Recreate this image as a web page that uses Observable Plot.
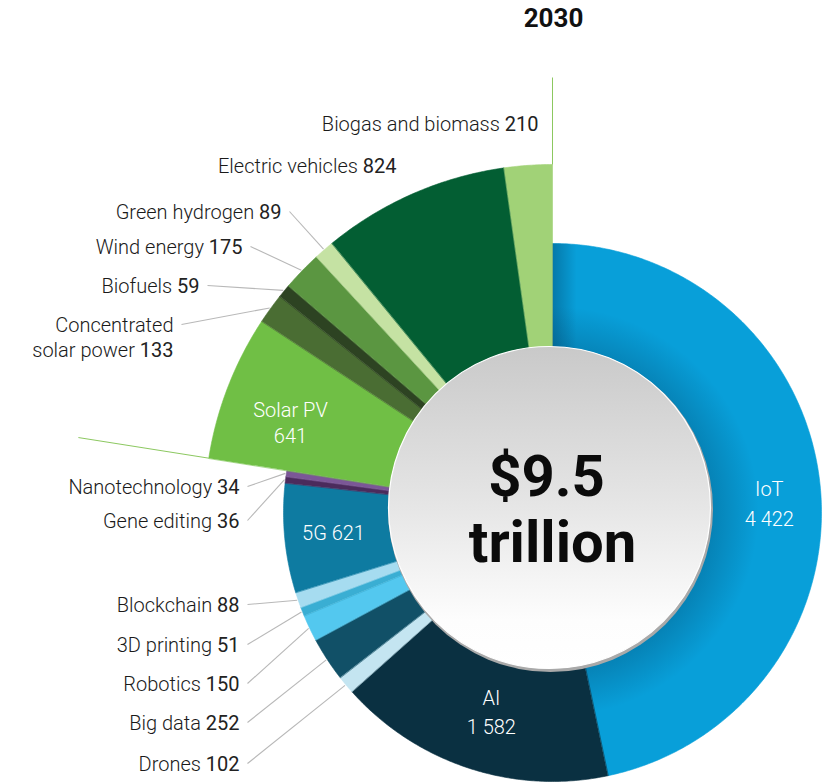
<!DOCTYPE html>
<html>
<head>
<meta charset="utf-8">
<script src="https://cdn.jsdelivr.net/npm/d3@7"></script>
<script src="https://cdn.jsdelivr.net/npm/@observablehq/plot@0.6"></script>
<style>
  html, body { margin: 0; padding: 0; background: #ffffff; }
  #chart svg { display: block; }
</style>
</head>
<body>
<div id="chart"></div>
<script>
// ---------------- data ----------------
const title = "2030";
const centerLines = ["$9.5", "trillion"];
const names = ["IoT", "AI", "Drones", "Big data", "Robotics", "3D printing", "Blockchain", "5G",
  "Gene editing", "Nanotechnology", "Solar PV", "Concentrated\nsolar power", "Biofuels",
  "Wind energy", "Green hydrogen", "Electric vehicles", "Biogas and biomass"];
const values = [4422, 1582, 102, 252, 150, 51, 88, 621, 36, 34, 641, 133, 59, 175, 89, 824, 210];
const groups = ["tech", "tech", "tech", "tech", "tech", "tech", "tech", "tech", "tech", "tech",
  "green", "green", "green", "green", "green", "green", "green"];
const colors = ["#089fd9", "#0a3041", "#c4e5f1", "#115067", "#53c8ef", "#3aaed3", "#a6dcf0", "#0e7ba1",
  "#4b2b5c", "#7b5797", "#70bf45", "#4a6d33", "#2d4322", "#5b9641", "#c5e2a3", "#035e33", "#a1d277"];

// ---------------- layout ----------------
const W = 833, H = 783;
const CX = 552, CY = 512;           // ring centre (px)
const R_TECH = 269, R_GREEN = 348, R_IN = 120;
const DISC = {x: 549, y: 507, r: 161};
// label placement: inside labels by radius, outside labels by right edge / centre line (px)
const labelLayout = {
  "IoT": {inside: true, r: 218, gap: 30},
  "AI": {inside: true, r: 196, gap: 29},
  "5G": {inside: true, r: 220, oneLine: true},
  "Solar PV": {inside: true, r: 281, gap: 26},
  "Biogas and biomass": {x: 538, y: 124, leader: false},
  "Electric vehicles": {x: 396, y: 166, leader: false},
  "Green hydrogen": {x: 281, y: 212},
  "Wind energy": {x: 242, y: 247},
  "Biofuels": {x: 199, y: 286},
  "Concentrated\nsolar power": {x: 173, y: 325},
  "Nanotechnology": {x: 239, y: 487},
  "Gene editing": {x: 239, y: 521},
  "Blockchain": {x: 239, y: 605},
  "3D printing": {x: 239, y: 645},
  "Robotics": {x: 239, y: 684},
  "Big data": {x: 239, y: 723},
  "Drones": {x: 239, y: 764}
};
const FONT = "Roboto, 'Noto Sans', sans-serif";
const FS = 20, LINE = 25;

// ---------------- helpers ----------------
const fmt = d3.formatLocale({thousands: " ", grouping: [3], decimal: "."}).format(",d");
const polar = (r, a) => ({x: r * Math.sin(a), y: r * Math.cos(a)});
const pix = (px, py) => ({x: px - CX, y: CY - py});

const total = d3.sum(values);
let acc = 0;
const slices = names.map((name, i) => {
  const a0 = acc / total * 2 * Math.PI;
  acc += values[i];
  const a1 = acc / total * 2 * Math.PI;
  return {name, value: values[i], label: fmt(values[i]), group: groups[i], color: colors[i],
    a0, a1, am: (a0 + a1) / 2, R: groups[i] === "green" ? R_GREEN : R_TECH};
});

const poly = slices.flatMap(s => {
  const n = Math.max(2, Math.ceil((s.a1 - s.a0) / (Math.PI / 360)));
  const pts = [];
  for (let k = 0; k <= n; k++) {
    const a = s.a0 + (s.a1 - s.a0) * k / n;
    pts.push({name: s.name, color: s.color, ...polar(s.R, a)});
  }
  for (let k = n; k >= 0; k--) {
    const a = s.a0 + (s.a1 - s.a0) * k / n;
    pts.push({name: s.name, color: s.color, ...polar(R_IN, a)});
  }
  return pts;
});

// text measuring
const ctx = document.createElement("canvas").getContext("2d");
const measure = (t, w) => { ctx.font = `${w} ${FS}px Roboto`; return ctx.measureText(t).width; };

const insideTexts = [];
const outNames = [];
const outNums = [];
const leaders = [];
for (const s of slices) {
  const L = labelLayout[s.name];
  if (L.inside) {
    const p = polar(L.r, s.am);
    if (L.oneLine) insideTexts.push({x: p.x, y: p.y, text: `${s.name} ${s.label}`});
    else {
      insideTexts.push({x: p.x, y: p.y, text: s.name});
      insideTexts.push({x: p.x, y: p.y - L.gap, text: s.label});
    }
  } else {
    const lines = s.name.split("\n");
    lines.forEach((ln, j) => {
      const p = pix(L.x, L.y + j * LINE);
      if (j < lines.length - 1) outNames.push({...p, text: ln, dx: 0});
      else {
        const nw = measure(s.label, 400) + measure(" ", 300);
        outNames.push({...p, text: ln, dx: -nw});
        outNums.push({...p, text: s.label});
      }
    });
    if (L.leader !== false) {
      const a = pix(L.x + 8, L.y - 1);
      const b = polar(s.R + 1, s.am);
      leaders.push({x1: a.x, y1: a.y, x2: b.x, y2: b.y});
    }
  }
}
// green sector boundary extensions
const gStart = slices.find(s => s.group === "green").a0;
const ext = [
  {p: polar(R_GREEN, 0), q: polar(435, 0)},
  {p: polar(R_GREEN, gStart), q: polar(480, gStart)}
].map(e => ({x1: e.p.x, y1: e.p.y, x2: e.q.x, y2: e.q.y}));

const disc = [pix(DISC.x, DISC.y)];
const discShadow = [pix(DISC.x + 1, DISC.y + 2)];
const titlePos = [{...pix(553, 18), text: title}];
const centerText = [
  {...pix(546, 477), text: centerLines[0]},
  {...pix(552, 543), text: centerLines[1]}
];

const nameMarks = d3.groups(outNames, d => d.dx).map(([dx, rows]) =>
  Plot.text(rows, {x: "x", y: "y", text: "text", dx, textAnchor: "end", fontSize: FS,
    fontWeight: 300, fill: "#1a1a1a", fontFamily: FONT}));

const chart = Plot.plot({
  width: W, height: H,
  margin: 0,
  x: {domain: [-CX, W - CX], range: [0, W], axis: null},
  y: {domain: [-(H - CY), CY], range: [H, 0], axis: null},
  color: {type: "identity"},
  marks: [
    Plot.line(poly, {x: "x", y: "y", z: "name", fill: "color", stroke: "color", strokeWidth: 0.6,
      curve: "linear-closed"}),
    Plot.line(poly.filter(d => d.name === "IoT"), {x: "x", y: "y", z: "name",
      fill: "url(#iotShade)", curve: "linear-closed"}),
    Plot.line(poly.filter(d => d.name === "IoT"), {x: "x", y: "y", z: "name",
      fill: "url(#iotEdge)", curve: "linear-closed"}),
    Plot.link(ext, {x1: "x1", y1: "y1", x2: "x2", y2: "y2", stroke: "#8cc860", strokeWidth: 1}),
    Plot.link(leaders, {x1: "x1", y1: "y1", x2: "x2", y2: "y2", stroke: "#b8b8b8", strokeWidth: 1.1}),
    Plot.dot(discShadow, {x: "x", y: "y", r: DISC.r + 1.5, fill: "#a9a9a9", stroke: null}),
    Plot.dot(disc, {x: "x", y: "y", r: DISC.r, fill: "url(#discGrad)", stroke: "#ffffff", strokeWidth: 1.2}),
    Plot.text(centerText, {x: "x", y: "y", text: "text", fontSize: 58, fontWeight: 700,
      fill: "#0b0b0b", fontFamily: FONT}),
    Plot.text(titlePos, {x: "x", y: "y", text: "text", fontSize: 26, fontWeight: 700,
      fill: "#111", fontFamily: FONT}),
    Plot.text(insideTexts, {x: "x", y: "y", text: "text", fontSize: FS, fontWeight: 300,
      fill: "#ffffff", fontFamily: FONT}),
    ...nameMarks,
    Plot.text(outNums, {x: "x", y: "y", text: "text", textAnchor: "end", fontSize: FS,
      fontWeight: 400, fill: "#222222", fontFamily: FONT})
  ]
});

const defs = d3.select(chart).insert("defs", ":first-child");
const dg = defs.append("linearGradient").attr("id", "discGrad").attr("x1", 0).attr("y1", 0).attr("x2", 0).attr("y2", 1);
dg.append("stop").attr("offset", 0).attr("stop-color", "#c9c9c9");
dg.append("stop").attr("offset", 0.5).attr("stop-color", "#e6e6e6");
dg.append("stop").attr("offset", 0.85).attr("stop-color", "#fdfdfd");
dg.append("stop").attr("offset", 1).attr("stop-color", "#ffffff");
const rs = defs.append("radialGradient").attr("id", "iotShade").attr("gradientUnits", "userSpaceOnUse")
  .attr("cx", DISC.x + 4).attr("cy", DISC.y + 4).attr("r", 205);
rs.append("stop").attr("offset", 0).attr("stop-color", "#003050").attr("stop-opacity", 0.3);
rs.append("stop").attr("offset", 0.78).attr("stop-color", "#003050").attr("stop-opacity", 0.25);
rs.append("stop").attr("offset", 1).attr("stop-color", "#003050").attr("stop-opacity", 0);
const eg = defs.append("linearGradient").attr("id", "iotEdge").attr("gradientUnits", "userSpaceOnUse")
  .attr("x1", CX).attr("y1", 0).attr("x2", CX + 24).attr("y2", 0);
eg.append("stop").attr("offset", 0).attr("stop-color", "#003050").attr("stop-opacity", 0.35);
eg.append("stop").attr("offset", 1).attr("stop-color", "#003050").attr("stop-opacity", 0);

document.getElementById("chart").appendChild(chart);
</script>
</body>
</html>
